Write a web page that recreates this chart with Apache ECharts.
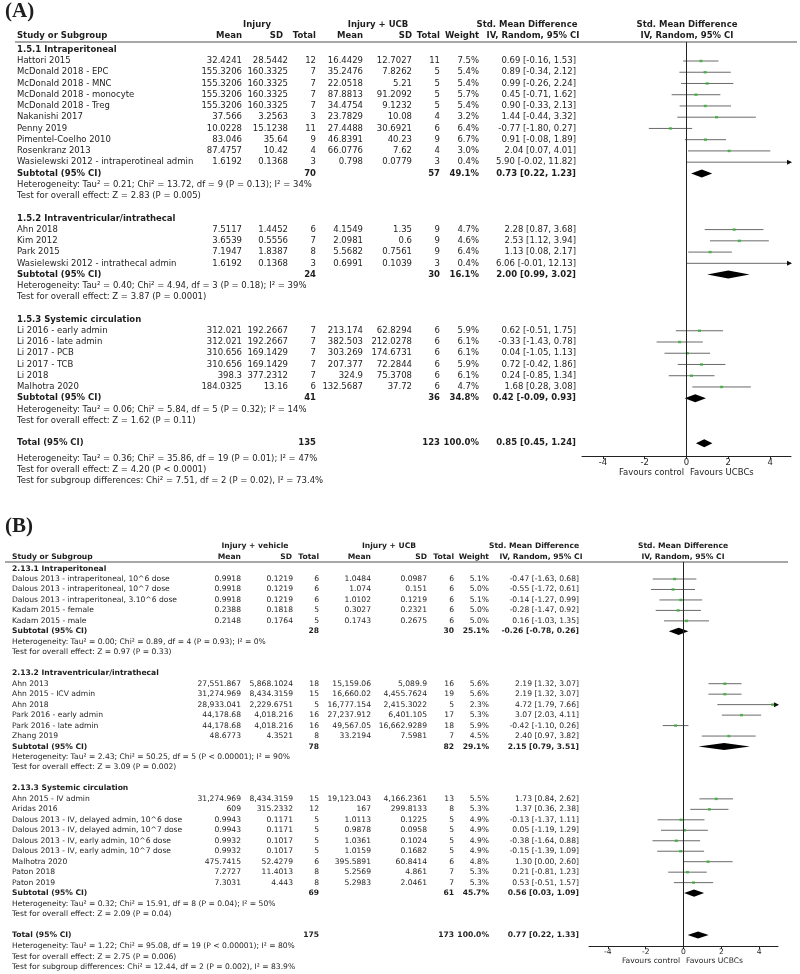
<!DOCTYPE html>
<html><head><meta charset="utf-8">
<script src="https://cdn.jsdelivr.net/npm/echarts@6/dist/echarts.min.js"></script>
<style>html,body{margin:0;padding:0;background:#fff}#c{width:800px;height:974px}</style>
</head><body><div id="c"></div>
<script>
// ================= PANEL A DATA =================
const A_groups = ["1.5.1 Intraperitoneal", "1.5.2 Intraventricular/intrathecal", "1.5.3 Systemic circulation"];
const A_groupOf = [0,0,0,0,0,0,0,0,0,0, 1,1,1,1, 2,2,2,2,2,2];
const A_study = ["Hattori 2015","McDonald 2018 - EPC","McDonald 2018 - MNC","McDonald 2018 - monocyte","McDonald 2018 - Treg","Nakanishi 2017","Penny 2019","Pimentel-Coelho 2010","Rosenkranz 2013","Wasielewski 2012 - intraperotineal admin",
  "Ahn 2018","Kim 2012","Park 2015","Wasielewski 2012 - intrathecal admin",
  "Li 2016 - early admin","Li 2016 - late admin","Li 2017 - PCB","Li 2017 - TCB","Li 2018","Malhotra 2020"];
const A_mean1 = ["32.4241","155.3206","155.3206","155.3206","155.3206","37.566","10.0228","83.046","87.4757","1.6192","7.5117","3.6539","7.1947","1.6192","312.021","312.021","310.656","310.656","398.3","184.0325"];
const A_sd1 = ["28.5442","160.3325","160.3325","160.3325","160.3325","3.2563","15.1238","35.64","10.42","0.1368","1.4452","0.5556","1.8387","0.1368","192.2667","192.2667","169.1429","169.1429","377.2312","13.16"];
const A_n1 = [12,7,7,7,7,3,11,9,4,3, 6,7,8,3, 7,7,7,7,7,6];
const A_mean2 = ["16.4429","35.2476","22.0518","87.8813","34.4754","23.7829","27.4488","46.8391","66.0776","0.798","4.1549","2.0981","5.5682","0.6991","213.174","382.503","303.269","207.377","324.9","132.5687"];
const A_sd2 = ["12.7027","7.8262","5.21","91.2092","9.1232","10.08","30.6921","40.23","7.62","0.0779","1.35","0.6","0.7561","0.1039","62.8294","212.0278","174.6731","72.2844","75.3708","37.72"];
const A_n2 = [11,5,5,5,5,4,6,9,4,3, 9,9,9,3, 6,6,6,6,6,6];
const A_weight = [7.5,5.4,5.4,5.7,5.4,3.2,6.4,6.7,3.0,0.4, 4.7,4.6,6.4,0.4, 5.9,6.1,6.1,5.9,6.1,4.7];
const A_smd = [0.69,0.89,0.99,0.45,0.90,1.44,-0.77,0.91,2.04,5.90, 2.28,2.53,1.13,6.06, 0.62,-0.33,0.04,0.72,0.24,1.68];
const A_lo  = [-0.16,-0.34,-0.26,-0.71,-0.33,-0.44,-1.80,-0.08,0.07,-0.02, 0.87,1.12,0.08,-0.01, -0.51,-1.43,-1.05,-0.42,-0.85,0.28];
const A_hi  = [1.53,2.12,2.24,1.62,2.13,3.32,0.27,1.89,4.01,11.82, 3.68,3.94,2.17,12.13, 1.75,0.78,1.13,1.86,1.34,3.08];
const A_subN1 = [70,24,41];
const A_subN2 = [57,30,36];
const A_subW = [49.1,16.1,34.8];
const A_subSmd = [0.73,2.00,0.42];
const A_subLo = [0.22,0.99,-0.09];
const A_subHi = [1.23,3.02,0.93];
const A_het = ["Heterogeneity: Tau² = 0.21; Chi² = 13.72, df = 9 (P = 0.13); I² = 34%","Heterogeneity: Tau² = 0.40; Chi² = 4.94, df = 3 (P = 0.18); I² = 39%","Heterogeneity: Tau² = 0.06; Chi² = 5.84, df = 5 (P = 0.32); I² = 14%"];
const A_test = ["Test for overall effect: Z = 2.83 (P = 0.005)","Test for overall effect: Z = 3.87 (P = 0.0001)","Test for overall effect: Z = 1.62 (P = 0.11)"];
const A_total = {n1:135, n2:123, w:100.0, smd:0.85, lo:0.45, hi:1.24};
const A_totalText = ["Heterogeneity: Tau² = 0.36; Chi² = 35.86, df = 19 (P = 0.01); I² = 47%","Test for overall effect: Z = 4.20 (P < 0.0001)","Test for subgroup differences: Chi² = 7.51, df = 2 (P = 0.02), I² = 73.4%"];
const A_head1 = ["Injury", "Injury + UCB"];

// ================= PANEL B DATA =================
const B_groups = ["2.13.1 Intraperitoneal", "2.13.2 Intraventricular/intrathecal", "2.13.3 Systemic circulation"];
const B_groupOf = [0,0,0,0,0, 1,1,1,1,1,1, 2,2,2,2,2,2,2,2,2];
const B_study = ["Dalous 2013 - intraperitoneal, 10^6 dose","Dalous 2013 - intraperitoneal, 10^7 dose","Dalous 2013 - intraperitoneal, 3.10^6 dose","Kadam 2015 - female","Kadam 2015 - male",
  "Ahn 2013","Ahn 2015 - ICV admin","Ahn 2018","Park 2016 - early admin","Park 2016 - late admin","Zhang 2019",
  "Ahn 2015 - IV admin","Aridas 2016","Dalous 2013 - IV, delayed admin, 10^6 dose","Dalous 2013 - IV, delayed admin, 10^7 dose","Dalous 2013 - IV, early admin, 10^6 dose","Dalous 2013 - IV, early admin, 10^7 dose","Malhotra 2020","Paton 2018","Paton 2019"];
const B_mean1 = ["0.9918","0.9918","0.9918","0.2388","0.2148","27,551.867","31,274.969","28,933.041","44,178.68","44,178.68","48.6773","31,274.969","609","0.9943","0.9943","0.9932","0.9932","475.7415","7.2727","7.3031"];
const B_sd1 = ["0.1219","0.1219","0.1219","0.1818","0.1764","5,868.1024","8,434.3159","2,229.6751","4,018.216","4,018.216","4.3521","8,434.3159","315.2332","0.1171","0.1171","0.1017","0.1017","52.4279","11.4013","4.443"];
const B_n1 = [6,6,6,5,5, 18,15,5,16,16,8, 15,12,5,5,5,5,6,8,8];
const B_mean2 = ["1.0484","1.074","1.0102","0.3027","0.1743","15,159.06","16,660.02","16,777.154","27,237.912","49,567.05","33.2194","19,123.043","167","1.0113","0.9878","1.0361","1.0159","395.5891","5.2569","5.2983"];
const B_sd2 = ["0.0987","0.151","0.1219","0.2321","0.2675","5,089.9","4,455.7624","2,415.3022","6,401.105","16,662.9289","7.5981","4,166.2361","299.8133","0.1225","0.0958","0.1024","0.1682","60.8414","4.861","2.0461"];
const B_n2 = [6,6,6,6,6, 16,19,5,17,18,7, 13,8,5,5,5,5,6,7,7];
const B_weight = [5.1,5.0,5.1,5.0,5.0, 5.6,5.6,2.3,5.3,5.9,4.5, 5.5,5.3,4.9,4.9,4.9,4.9,4.8,5.3,5.3];
const B_smd = [-0.47,-0.55,-0.14,-0.28,0.16, 2.19,2.19,4.72,3.07,-0.42,2.40, 1.73,1.37,-0.13,0.05,-0.38,-0.15,1.30,0.21,0.53];
const B_lo  = [-1.63,-1.72,-1.27,-1.47,-1.03, 1.32,1.32,1.79,2.03,-1.10,0.97, 0.84,0.36,-1.37,-1.19,-1.64,-1.39,0.00,-0.81,-0.51];
const B_hi  = [0.68,0.61,0.99,0.92,1.35, 3.07,3.07,7.66,4.11,0.26,3.82, 2.62,2.38,1.11,1.29,0.88,1.09,2.60,1.23,1.57];
const B_subN1 = [28,78,69];
const B_subN2 = [30,82,61];
const B_subW = [25.1,29.1,45.7];
const B_subSmd = [-0.26,2.15,0.56];
const B_subLo = [-0.78,0.79,0.03];
const B_subHi = [0.26,3.51,1.09];
const B_het = ["Heterogeneity: Tau² = 0.00; Chi² = 0.89, df = 4 (P = 0.93); I² = 0%","Heterogeneity: Tau² = 2.43; Chi² = 50.25, df = 5 (P < 0.00001); I² = 90%","Heterogeneity: Tau² = 0.32; Chi² = 15.91, df = 8 (P = 0.04); I² = 50%"];
const B_test = ["Test for overall effect: Z = 0.97 (P = 0.33)","Test for overall effect: Z = 3.09 (P = 0.002)","Test for overall effect: Z = 2.09 (P = 0.04)"];
const B_total = {n1:175, n2:173, w:100.0, smd:0.77, lo:0.22, hi:1.33};
const B_totalText = ["Heterogeneity: Tau² = 1.22; Chi² = 95.08, df = 19 (P < 0.00001); I² = 80%","Test for overall effect: Z = 2.75 (P = 0.006)","Test for subgroup differences: Chi² = 12.44, df = 2 (P = 0.002), I² = 83.9%"];
const B_head1 = ["Injury + vehicle", "Injury + UCB"];

const TICKS = [-4,-2,0,2,4];
const XMIN = -5, XMAX = 5;

// ================= LAYOUT =================
const FONT = '"DejaVu Sans", sans-serif';
const TXT = '#1e1e1e';
const PA = {
  key:'A', fs:8.5, y0:61, dy:11.24, footShift:0.35, top:42, bottom:456, left:582, right:791,
  cols:{name:17, m1:242, s1:288, n1:316, m2:363, s2:412, n2:440, w:479, ci:576},
  hdr:{y1:25, y2:36, c1:257, c2:378, smd:527, ci:533, sd1:283, plot:687, ruleL:15, ruleR:797},
  label:{text:'(A)', y:12}, favY:473, dh:4,
  groups:A_groups, groupOf:A_groupOf, study:A_study, m1:A_mean1, s1:A_sd1, n1:A_n1, m2:A_mean2, s2:A_sd2, n2:A_n2,
  w:A_weight, smd:A_smd, lo:A_lo, hi:A_hi, subN1:A_subN1, subN2:A_subN2, subW:A_subW, subSmd:A_subSmd, subLo:A_subLo, subHi:A_subHi,
  het:A_het, test:A_test, total:A_total, totalText:A_totalText, head1:A_head1
};
const PB = {
  key:'B', fs:7.6, y0:579, dy:10.47, footShift:0.1, top:562, bottom:946, left:589, right:778,
  cols:{name:12, m1:241, s1:293, n1:319, m2:371, s2:427, n2:454, w:489, ci:579},
  hdr:{y1:546, y2:557, c1:255, c2:389, smd:534, ci:541, sd1:292, plot:683, ruleL:5, ruleR:788},
  label:{text:'(B)', y:527}, favY:961, dh:3.6,
  groups:B_groups, groupOf:B_groupOf, study:B_study, m1:B_mean1, s1:B_sd1, n1:B_n1, m2:B_mean2, s2:B_sd2, n2:B_n2,
  w:B_weight, smd:B_smd, lo:B_lo, hi:B_hi, subN1:B_subN1, subN2:B_subN2, subW:B_subW, subSmd:B_subSmd, subLo:B_subLo, subHi:B_subHi,
  het:B_het, test:B_test, total:B_total, totalText:B_totalText, head1:B_head1
};

const ci = (e,l,h) => e.toFixed(2) + ' [' + l.toFixed(2) + ', ' + h.toFixed(2) + ']';

function buildRows(P){
  const rows = []; let line = -1;
  P.groups.forEach((g, gi) => {
    rows.push({line, type:'group', text:g}); line++;
    P.study.forEach((s, i) => { if (P.groupOf[i] === gi) { rows.push({line, type:'study', i}); line++; } });
    rows.push({line, type:'sub', g:gi}); line++;
    rows.push({line, type:'note', text:P.het[gi]}); line++;
    rows.push({line, type:'note', text:P.test[gi]}); line++;
    line++;
  });
  rows.push({line, type:'total'}); line++;
  P.totalText.forEach(t => { rows.push({line: line + P.footShift, type:'note', text:t}); line++; });
  return rows;
}

function panelSeries(P, gi){
  const rows = buildRows(P);
  const C = P.cols;
  const studyRows = rows.filter(r => r.type === 'study');
  const diaRows = rows.filter(r => r.type === 'sub' || r.type === 'total');
  const font = b => (b ? 'bold ' : '') + P.fs + 'px ' + FONT;
  const table = {
    type:'custom', xAxisIndex:gi, yAxisIndex:gi, clip:false, silent:true, z:5,
    encode:{x:0, y:1},
    data: rows.map((r,k) => [0, r.line, k]),
    renderItem: (params, api) => {
      const r = rows[api.value(2)];
      const y = api.coord([0, api.value(1)])[1];
      const kids = [];
      const T = (x, s, align, b) => kids.push({type:'text', style:{x, y, text:String(s), textAlign:align, textVerticalAlign:'middle', font:font(b), fill:TXT}});
      if (r.type === 'group') T(C.name, r.text, 'left', true);
      else if (r.type === 'note') T(C.name, r.text, 'left', false);
      else if (r.type === 'study') {
        const i = r.i;
        T(C.name, P.study[i], 'left', false);
        T(C.m1, P.m1[i], 'right'); T(C.s1, P.s1[i], 'right'); T(C.n1, P.n1[i], 'right');
        T(C.m2, P.m2[i], 'right'); T(C.s2, P.s2[i], 'right'); T(C.n2, P.n2[i], 'right');
        T(C.w, P.w[i].toFixed(1) + '%', 'right');
        T(C.ci, ci(P.smd[i], P.lo[i], P.hi[i]), 'right');
      } else if (r.type === 'sub') {
        const g = r.g;
        T(C.name, 'Subtotal (95% CI)', 'left', true);
        T(C.n1, P.subN1[g], 'right', true); T(C.n2, P.subN2[g], 'right', true);
        T(C.w, P.subW[g].toFixed(1) + '%', 'right', true);
        T(C.ci, ci(P.subSmd[g], P.subLo[g], P.subHi[g]), 'right', true);
      } else if (r.type === 'total') {
        const t = P.total;
        T(C.name, 'Total (95% CI)', 'left', true);
        T(C.n1, t.n1, 'right', true); T(C.n2, t.n2, 'right', true);
        T(C.w, t.w.toFixed(1) + '%', 'right', true);
        T(C.ci, ci(t.smd, t.lo, t.hi), 'right', true);
      }
      return {type:'group', children:kids};
    }
  };
  const ciLines = {
    type:'custom', xAxisIndex:gi, yAxisIndex:gi, clip:false, silent:true, z:3,
    encode:{x:[0,1], y:2},
    data: studyRows.map(r => [P.lo[r.i], P.hi[r.i], r.line]),
    renderItem: (params, api) => {
      const lo = api.value(0), hi = api.value(1), ln = api.value(2);
      const a = api.coord([Math.max(lo, XMIN), ln]);
      const b = api.coord([Math.min(hi, XMAX), ln]);
      const kids = [{type:'line', shape:{x1:a[0], y1:a[1], x2:b[0], y2:b[1]}, style:{stroke:'#6a6a6a', lineWidth:1}}];
      if (hi > XMAX) kids.push({type:'polygon', shape:{points:[[b[0]+1, b[1]], [b[0]-4, b[1]-2.5], [b[0]-4, b[1]+2.5]]}, style:{fill:'#111'}});
      if (lo < XMIN) kids.push({type:'polygon', shape:{points:[[a[0]-1, a[1]], [a[0]+4, a[1]-2.5], [a[0]+4, a[1]+2.5]]}, style:{fill:'#111'}});
      return {type:'group', children:kids};
    }
  };
  const pts = {
    type:'scatter', xAxisIndex:gi, yAxisIndex:gi, silent:true, z:4,
    symbol:'rect', symbolSize:[3,2.5], itemStyle:{color:'#33b233'},
    data: studyRows.map(r => [P.smd[r.i], r.line]),
    markLine:{silent:true, symbol:['none','none'], label:{show:false}, lineStyle:{color:'#222', width:1, type:'solid'},
      data:[{xAxis:0}], animation:false}
  };
  const dia = {
    type:'custom', xAxisIndex:gi, yAxisIndex:gi, clip:false, silent:true, z:4,
    encode:{x:[0,1], y:3},
    data: diaRows.map(r => r.type === 'sub' ? [P.subLo[r.g], P.subHi[r.g], P.subSmd[r.g], r.line] : [P.total.lo, P.total.hi, P.total.smd, r.line]),
    renderItem: (params, api) => {
      const ln = api.value(3);
      const l = api.coord([api.value(0), ln]), h = api.coord([api.value(1), ln]), e = api.coord([api.value(2), ln]);
      return {type:'polygon', shape:{points:[[l[0], l[1]], [e[0], e[1]-P.dh], [h[0], h[1]], [e[0], e[1]+P.dh]]}, style:{fill:'#000'}};
    }
  };
  return [table, ciLines, pts, dia];
}

function gridFor(P){ return {left:P.left, top:P.top, width:P.right-P.left, height:P.bottom-P.top, containLabel:false}; }
function xAxisFor(P, gi){
  return {type:'value', gridIndex:gi, min:XMIN, max:XMAX, splitLine:{show:false},
    axisLine:{show:true, onZero:false, lineStyle:{color:'#222', width:1}},
    axisTick:{show:true, customValues:TICKS, length:3, lineStyle:{color:'#222'}},
    axisLabel:{customValues:TICKS, fontSize:P.fs, fontFamily:FONT, color:TXT, margin:2}};
}
function yAxisFor(P, gi){
  return {type:'value', gridIndex:gi, inverse:true, show:false,
    min:(P.top - P.y0)/P.dy, max:(P.bottom - P.y0)/P.dy};
}
function headerGraphics(P){
  const H = P.hdr, C = P.cols, g = [];
  const T = (x, y, s, align, b, size, fam) => g.push({type:'text', silent:true, style:{x, y, text:s, textAlign:align, textVerticalAlign:'middle',
    font:(b ? 'bold ' : '') + (size || P.fs) + 'px ' + (fam || FONT), fill:TXT}});
  T(5, P.label.y, P.label.text, 'left', true, 21, '"Liberation Serif", serif');
  T(H.c1, H.y1, P.head1[0], 'center', true);
  T(H.c2, H.y1, P.head1[1], 'center', true);
  T(H.smd, H.y1, 'Std. Mean Difference', 'center', true);
  T(H.plot, H.y1, 'Std. Mean Difference', 'center', true);
  T(C.name, H.y2, 'Study or Subgroup', 'left', true);
  T(C.m1, H.y2, 'Mean', 'right', true);
  T(H.sd1, H.y2, 'SD', 'right', true);
  T(C.n1, H.y2, 'Total', 'right', true);
  T(C.m2, H.y2, 'Mean', 'right', true);
  T(C.s2, H.y2, 'SD', 'right', true);
  T(C.n2, H.y2, 'Total', 'right', true);
  T(C.w, H.y2, 'Weight', 'right', true);
  T(H.ci, H.y2, 'IV, Random, 95% CI', 'center', true);
  T(H.plot, H.y2, 'IV, Random, 95% CI', 'center', true);
  g.push({type:'line', silent:true, shape:{x1:H.ruleL, y1:P.top, x2:H.ruleR, y2:P.top}, style:{stroke:'#8a8a8a', lineWidth:1.6}});
  T(H.plot - 3, P.favY, 'Favours control', 'right', false);
  T(H.plot + 3, P.favY, 'Favours UCBCs', 'left', false);
  return g;
}

const chart = echarts.init(document.getElementById('c'), null, {renderer:'canvas'});
chart.setOption({
  animation:false,
  backgroundColor:'#fff',
  grid:[gridFor(PA), gridFor(PB)],
  xAxis:[xAxisFor(PA,0), xAxisFor(PB,1)],
  yAxis:[yAxisFor(PA,0), yAxisFor(PB,1)],
  graphic:{elements: headerGraphics(PA).concat(headerGraphics(PB))},
  series: panelSeries(PA,0).concat(panelSeries(PB,1))
});
</script></body></html>
